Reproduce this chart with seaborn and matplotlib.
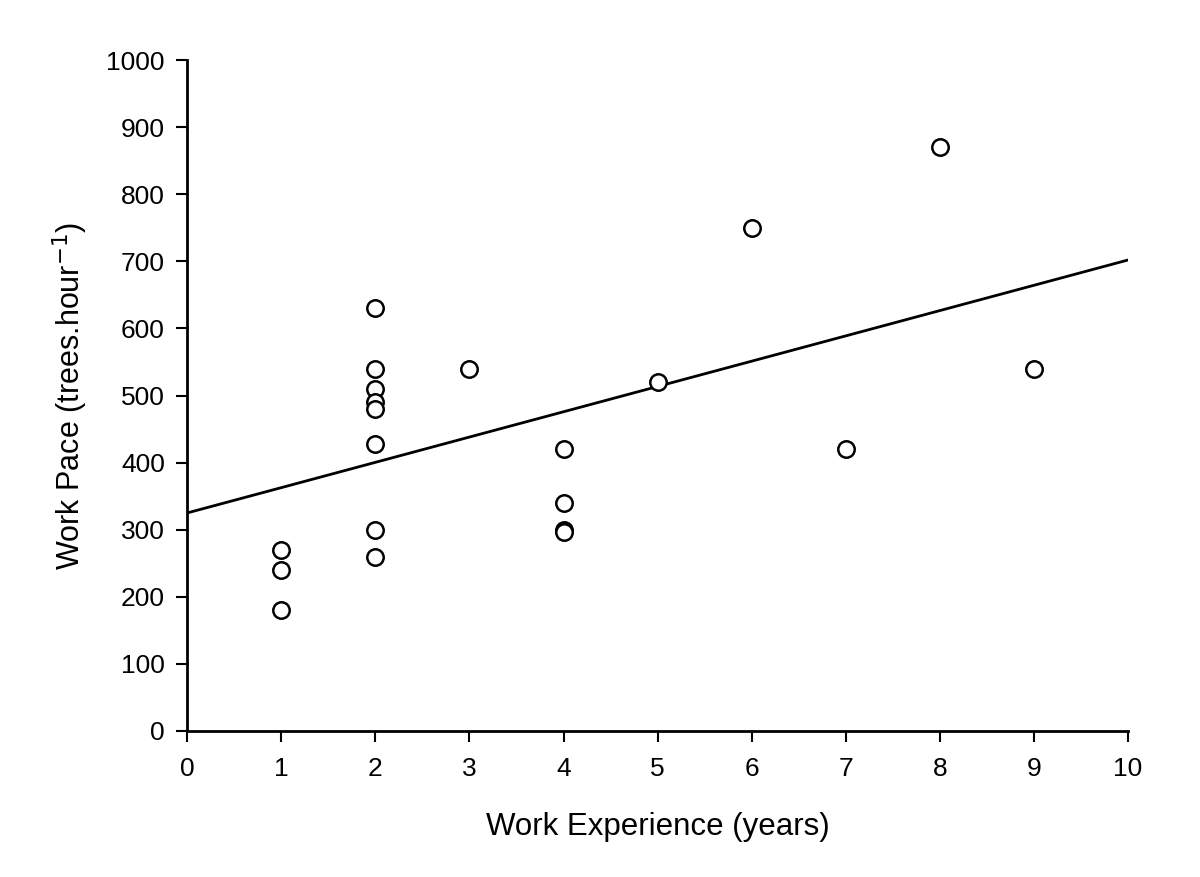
import numpy as np
import pandas as pd
import matplotlib
matplotlib.use("Agg")
import matplotlib.pyplot as plt
import seaborn as sns

# Data
experience = [1, 1, 1, 2, 2, 2, 2, 2, 2, 2, 2, 3, 4, 4, 4, 4, 5, 6, 7, 8, 9]
work_pace = [270, 240, 180, 630, 540, 510, 490, 480, 428, 300, 260, 540,
             420, 340, 300, 297, 520, 750, 420, 870, 540]
fit_intercept = 325.0
fit_slope = 37.7
fit_x = [0, 10]
x_ticks = list(range(0, 11))
y_ticks = list(range(0, 1001, 100))

sns.set_theme(style="ticks")
plt.rcParams['font.family'] = ['Liberation Sans', 'DejaVu Sans']
plt.rcParams['text.color'] = 'black'
plt.rcParams['axes.labelcolor'] = 'black'

df = pd.DataFrame({"x": experience, "y": work_pace})
fit_df = pd.DataFrame({"x": fit_x, "y": [fit_intercept + fit_slope * v for v in fit_x]})

fig = plt.figure(figsize=(12, 8.77), dpi=100)
ax = fig.add_axes([0.156, 0.1665, 0.784, 0.765])

sns.lineplot(data=fit_df, x="x", y="y", ax=ax, color="black", linewidth=2)
sns.scatterplot(data=df, x="x", y="y", ax=ax, s=140, facecolor="white",
                edgecolor="black", linewidth=1.8, zorder=3)

ax.set_xlim(0, 10)
ax.set_ylim(0, 1000)
ax.set_xticks(x_ticks)
ax.set_yticks(y_ticks)
ax.tick_params(axis="both", direction="out", length=8, width=1.5,
               labelsize=19, color="black", labelcolor="black")
ax.tick_params(axis="x", pad=11)
ax.tick_params(axis="y", pad=8)
for s in ["top", "right"]:
    ax.spines[s].set_visible(False)
for s in ["left", "bottom"]:
    ax.spines[s].set_linewidth(2)
    ax.spines[s].set_color("black")
ax.set_xlabel("Work Experience (years)", fontsize=22.5, labelpad=22, color="black")
ax.set_ylabel("Work Pace (trees.hour$^{-1}$)", fontsize=22, labelpad=12, color="black")
ax.set_facecolor("white")
fig.patch.set_facecolor("white")
fig.savefig("out.png", dpi=100)
